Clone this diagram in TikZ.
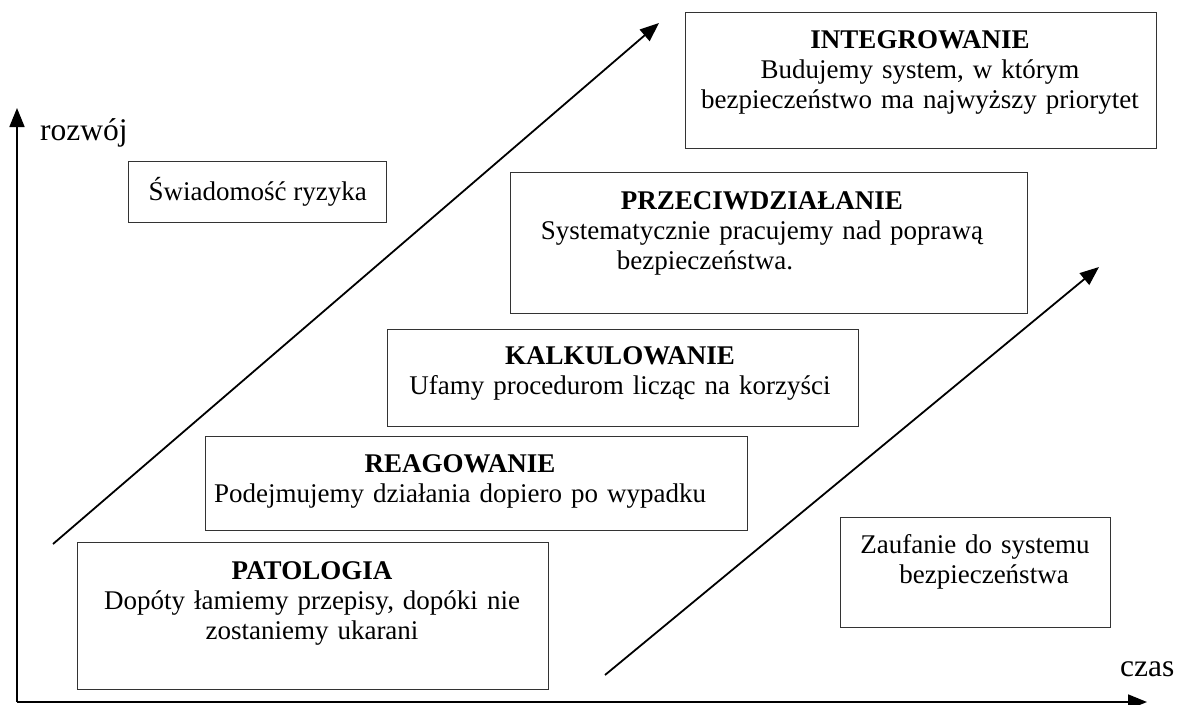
\documentclass[tikz,border=0pt]{standalone}
\usepackage{fontspec}
\setmainfont{Liberation Serif}
\usetikzlibrary{arrows.meta}
\tikzset{
  box/.style={draw=black!80, line width=1.4pt, inner sep=0, anchor=north west},
  txt/.style={anchor=base, align=center, inner sep=0, font=\fontsize{27}{30}\selectfont},
  axlabel/.style={anchor=base west, inner sep=0, font=\fontsize{31.5}{33}\selectfont},
  arr/.style={line width=1.8pt, -{Triangle[length=19pt,width=15pt]}},
}
\begin{document}
\begin{tikzpicture}[x=1pt,y=-1pt]
\useasboundingbox (0,0) rectangle (1180,704);
% axes
\coordinate (o) at (17,702);
\coordinate (ytip) at (17,108);
\coordinate (xtip) at (1147,702);
\draw[arr] (o) -- (ytip);
\draw[arr] (o) -- (xtip);
\node[axlabel] (rozwoj) at (40,140) {rozwój};
\node[axlabel] (czas) at (1120,676) {czas};
% boxes
\node[box, minimum width=471, minimum height=147] (pat) at (77,542) {};
\node[box, minimum width=542, minimum height=94] (rea) at (205,436) {};
\node[box, minimum width=471, minimum height=97] (kal) at (387,329) {};
\node[box, minimum width=517, minimum height=141] (prz) at (510,172) {};
\node[box, minimum width=471, minimum height=136] (int) at (685,12) {};
\node[box, minimum width=258, minimum height=61] (swi) at (128,161) {};
\node[box, minimum width=270, minimum height=110] (zau) at (840,517) {};
% texts
\node[txt, text width=460pt] (patT) at (312,579) {\textbf{PATOLOGIA}\\Dopóty łamiemy przepisy, dopóki nie\\zostaniemy ukarani};
\node[txt, text width=520pt] (reaT) at (460,472) {\textbf{REAGOWANIE}\\Podejmujemy działania dopiero po wypadku};
\node[txt, text width=460pt] (kalT) at (620,364) {\textbf{KALKULOWANIE}\\Ufamy procedurom licząc na korzyści};
\node[txt, text width=510pt] (przT) at (762,209) {\textbf{PRZECIWDZIAŁANIE}\\Systematycznie pracujemy nad poprawą\\\hspace*{-114pt}bezpieczeństwa.};
\node[txt, text width=465pt] (intT) at (920,48) {\textbf{INTEGROWANIE}\\Budujemy system, w którym\\bezpieczeństwo ma najwyższy priorytet};
\node[txt, text width=260pt] (zauT) at (975,553) {Zaufanie do systemu\\\hspace*{18pt}bezpieczeństwa};
\node[inner sep=0, font=\fontsize{27}{30}\selectfont] (swiT) at (swi.center) {Świadomość ryzyka};
% diagonal arrows
\coordinate (a1s) at (53,544);
\coordinate (a1e) at (659,23);
\coordinate (a2s) at (605,675);
\coordinate (a2e) at (1099,267);
\draw[arr] (a1s) -- (a1e);
\draw[arr] (a2s) -- (a2e);
\end{tikzpicture}
\end{document}
